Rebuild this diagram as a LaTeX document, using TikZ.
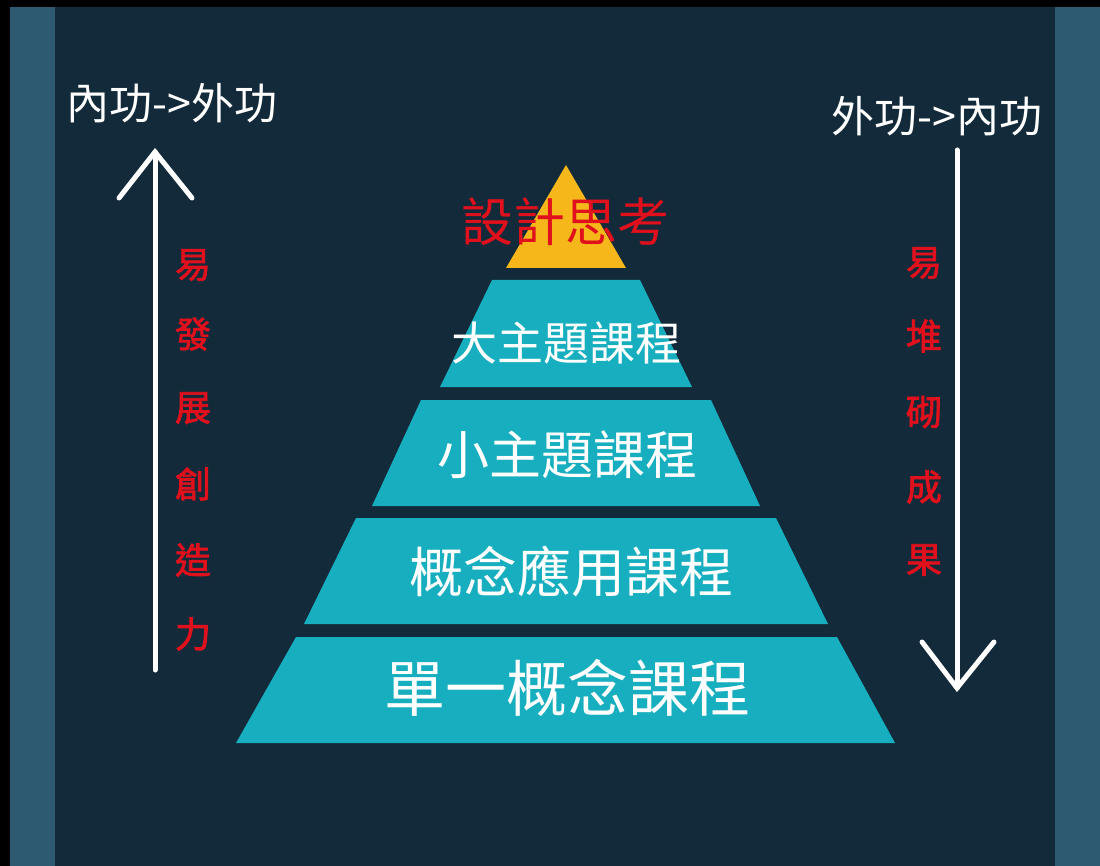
\documentclass[tikz,border=0pt]{standalone}
\usepackage{fontspec}
\newfontfamily\cjk{Noto Sans CJK TC}
\newfontfamily\cjkb[FakeBold=2]{Noto Sans CJK TC}
\definecolor{panel}{HTML}{132A3A}
\definecolor{side}{HTML}{2D5A71}
\definecolor{teal}{HTML}{17AFBF}
\definecolor{gold}{HTML}{F5B71A}
\definecolor{redtxt}{HTML}{E0101C}
\begin{document}
\begin{tikzpicture}[x=1pt,y=-1pt,
  layer/.style={fill=teal,draw=none},
  white/.style={text=white,font=\cjk,inner sep=0pt},
  redv/.style={text=redtxt,font=\cjkb\fontsize{36}{36}\selectfont,inner sep=0pt},
  bigarrow/.style={draw=white,line width=5pt,line cap=round,line join=miter}]
\useasboundingbox (0,0) rectangle (1100,866);
\fill[white] (0,0) rectangle (1100,866);
\fill[side] (10,7) rectangle (1100,866);
\fill[panel] (55,7) rectangle (1055,866);
% pyramid
\fill[gold] (566,165) -- (626,268) -- (506,268) -- cycle;
\fill[layer] (492,280) -- (640,280) -- (692,387) -- (440,387) -- cycle;
\fill[layer] (421,400) -- (711,400) -- (760,506) -- (372,506) -- cycle;
\fill[layer] (356,518) -- (776,518) -- (828,624) -- (304,624) -- cycle;
\fill[layer] (296,637) -- (837,637) -- (895,743) -- (236,743) -- cycle;
\node[text=redtxt,font=\cjk\fontsize{52}{52}\selectfont,inner sep=0pt] (top) at (565,222) {設計思考};
\node[white,font=\cjk\fontsize{46}{46}\selectfont] (l2) at (566,343) {大主題課程};
\node[white,font=\cjk\fontsize{52}{52}\selectfont] (l3) at (567,455) {小主題課程};
\node[white,font=\cjk\fontsize{54}{54}\selectfont] (l4) at (571,572) {概念應用課程};
\node[white,font=\cjk\fontsize{61}{61}\selectfont] (l5) at (567,688) {單一概念課程};
% headers
\node[white,font=\cjk\fontsize{43}{43}\selectfont] (hl) at (172,103) {內功->外功};
\node[white,font=\cjk\fontsize{43}{43}\selectfont] (hr) at (937,116) {外功->內功};
% left arrow
\coordinate (lb) at (155,670);
\coordinate (lt) at (155,152);
\coordinate (lw1) at (119,198);
\coordinate (lw2) at (192,198);
\draw[bigarrow] (lb) -- (lt);
\draw[bigarrow] (lw1) -- (lt) -- (lw2);
% right arrow
\coordinate (rt) at (957,150);
\coordinate (rb) at (957,688);
\coordinate (rw1) at (922,642);
\coordinate (rw2) at (994,642);
\draw[bigarrow] (rt) -- (rb);
\draw[bigarrow] (rw1) -- (rb) -- (rw2);
% vertical red texts
\node[redv] (a1) at (193,265) {易};
\node[redv] (a2) at (193,334) {發};
\node[redv] (a3) at (193,408) {展};
\node[redv] (a4) at (193,484) {創};
\node[redv] (a5) at (193,560) {造};
\node[redv] (a6) at (193,634) {力};
\node[redv] (b1) at (924,263) {易};
\node[redv] (b2) at (924,336) {堆};
\node[redv] (b3) at (924,412) {砌};
\node[redv] (b4) at (924,487) {成};
\node[redv] (b5) at (924,560) {果};
\end{tikzpicture}
\end{document}
